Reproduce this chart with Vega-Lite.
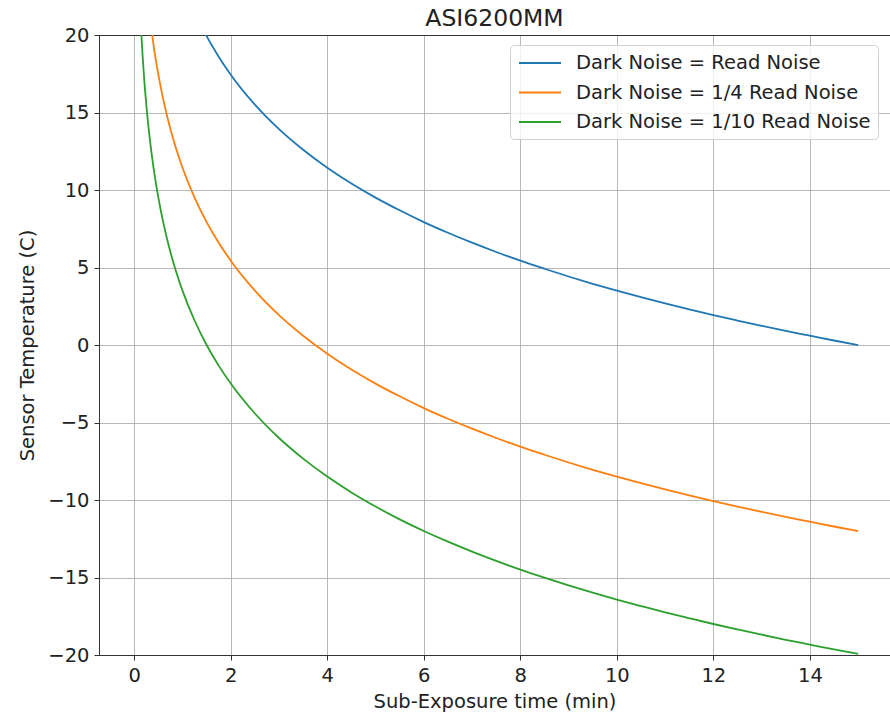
{
  "$schema": "https://vega.github.io/schema/vega-lite/v6.json",
  "autosize": "none",
  "width": 791,
  "height": 620,
  "padding": {"left": 99, "top": 35, "right": 0, "bottom": 57},
  "background": "white",
  "title": {"text": "ASI6200MM", "font": "DejaVu Sans", "fontSize": 23.5, "fontWeight": "normal", "color": "#222", "offset": -5, "anchor": "middle"},
  "config": {
    "view": {"stroke": "#333", "strokeWidth": 1},
    "font": "DejaVu Sans"
  },
  "data": {"values": [
    {"t": 0.1, "a": 43.37, "b": 31.37, "c": 23.44},
    {"t": 0.15, "a": 39.86, "b": 27.86, "c": 19.93},
    {"t": 0.2, "a": 37.37, "b": 25.37, "c": 17.44},
    {"t": 0.25, "a": 35.44, "b": 23.44, "c": 15.51},
    {"t": 0.3, "a": 33.86, "b": 21.86, "c": 13.93},
    {"t": 0.4, "a": 31.37, "b": 19.37, "c": 11.44},
    {"t": 0.5, "a": 29.44, "b": 17.44, "c": 9.51},
    {"t": 0.6, "a": 27.86, "b": 15.86, "c": 7.93},
    {"t": 0.7, "a": 26.53, "b": 14.53, "c": 6.6},
    {"t": 0.8, "a": 25.37, "b": 13.37, "c": 5.44},
    {"t": 0.9, "a": 24.35, "b": 12.35, "c": 4.42},
    {"t": 1.0, "a": 23.44, "b": 11.44, "c": 3.51},
    {"t": 1.25, "a": 21.51, "b": 9.51, "c": 1.58},
    {"t": 1.5, "a": 19.93, "b": 7.93, "c": 0.0},
    {"t": 1.75, "a": 18.6, "b": 6.6, "c": -1.33},
    {"t": 2, "a": 17.44, "b": 5.44, "c": -2.49},
    {"t": 2.5, "a": 15.51, "b": 3.51, "c": -4.42},
    {"t": 3, "a": 13.93, "b": 1.93, "c": -6.0},
    {"t": 3.5, "a": 12.6, "b": 0.6, "c": -7.33},
    {"t": 4, "a": 11.44, "b": -0.56, "c": -8.49},
    {"t": 4.5, "a": 10.42, "b": -1.58, "c": -9.51},
    {"t": 5, "a": 9.51, "b": -2.49, "c": -10.42},
    {"t": 5.5, "a": 8.69, "b": -3.31, "c": -11.25},
    {"t": 6, "a": 7.93, "b": -4.07, "c": -12.0},
    {"t": 6.5, "a": 7.24, "b": -4.76, "c": -12.69},
    {"t": 7, "a": 6.6, "b": -5.4, "c": -13.33},
    {"t": 7.5, "a": 6.0, "b": -6.0, "c": -13.93},
    {"t": 8, "a": 5.44, "b": -6.56, "c": -14.49},
    {"t": 8.5, "a": 4.92, "b": -7.08, "c": -15.01},
    {"t": 9, "a": 4.42, "b": -7.58, "c": -15.51},
    {"t": 9.5, "a": 3.95, "b": -8.05, "c": -15.98},
    {"t": 10, "a": 3.51, "b": -8.49, "c": -16.42},
    {"t": 10.5, "a": 3.09, "b": -8.91, "c": -16.84},
    {"t": 11, "a": 2.69, "b": -9.31, "c": -17.25},
    {"t": 11.5, "a": 2.3, "b": -9.7, "c": -17.63},
    {"t": 12, "a": 1.93, "b": -10.07, "c": -18.0},
    {"t": 12.5, "a": 1.58, "b": -10.42, "c": -18.35},
    {"t": 13, "a": 1.24, "b": -10.76, "c": -18.69},
    {"t": 13.5, "a": 0.91, "b": -11.09, "c": -19.02},
    {"t": 14, "a": 0.6, "b": -11.4, "c": -19.33},
    {"t": 14.5, "a": 0.29, "b": -11.71, "c": -19.64},
    {"t": 15, "a": 0.0, "b": -12.0, "c": -19.93}
  ]},
  "transform": [
    {"fold": ["a", "b", "c"], "as": ["key", "T"]},
    {"lookup": "key", "from": {"data": {"values": [
      {"key": "a", "series": "Dark Noise = Read Noise"},
      {"key": "b", "series": "Dark Noise = 1/4 Read Noise"},
      {"key": "c", "series": "Dark Noise = 1/10 Read Noise"}
    ]}, "key": "key", "fields": ["series"]}}
  ],
  "mark": {"type": "line", "clip": true, "strokeWidth": 1.8, "interpolate": "monotone"},
  "encoding": {
    "x": {
      "field": "t", "type": "quantitative",
      "scale": {"domain": [-0.73, 15.66], "nice": false, "zero": false},
      "axis": {
        "title": "Sub-Exposure time (min)", "titleFontSize": 19.5, "titleFontWeight": "normal", "titleColor": "#222", "titlePadding": 8,
        "values": [0, 2, 4, 6, 8, 10, 12, 14],
        "labelFontSize": 19.5, "labelColor": "#222", "labelPadding": 6,
        "tickSize": 5, "tickColor": "#333", "domainColor": "#333",
        "gridColor": "#b0b0b0", "gridWidth": 0.9
      }
    },
    "y": {
      "field": "T", "type": "quantitative",
      "scale": {"domain": [-20, 20], "nice": false, "zero": false},
      "axis": {
        "title": "Sensor Temperature (C)", "titleFontSize": 19.5, "titleFontWeight": "normal", "titleColor": "#222", "titlePadding": 10,
        "values": [-20, -15, -10, -5, 0, 5, 10, 15, 20],
        "labelExpr": "replace(datum.label, '-', '\u2212')",
        "labelFontSize": 19.5, "labelColor": "#222", "labelPadding": 5,
        "tickSize": 5, "tickColor": "#333", "domainColor": "#333",
        "gridColor": {"condition": {"test": "datum.value === 20", "value": "#333"}, "value": "#b0b0b0"},
        "gridWidth": 0.9
      }
    },
    "color": {
      "field": "series", "type": "nominal",
      "scale": {
        "domain": ["Dark Noise = Read Noise", "Dark Noise = 1/4 Read Noise", "Dark Noise = 1/10 Read Noise"],
        "range": ["#1f77b4", "#ff7f0e", "#2ca02c"]
      },
      "legend": {
        "title": null, "orient": "none", "legendX": 411, "legendY": 10,
        "symbolType": "M-2.1,0H2.1", "symbolSize": 400, "symbolStrokeWidth": 2, "symbolOffset": 12,
        "labelFontSize": 19.5, "labelColor": "#222", "labelOffset": 25, "labelLimit": 500, "rowPadding": 8.5,
        "padding": 7, "strokeColor": "#d0d0d0", "fillColor": "rgba(255,255,255,0.8)", "cornerRadius": 4
      }
    }
  }
}
